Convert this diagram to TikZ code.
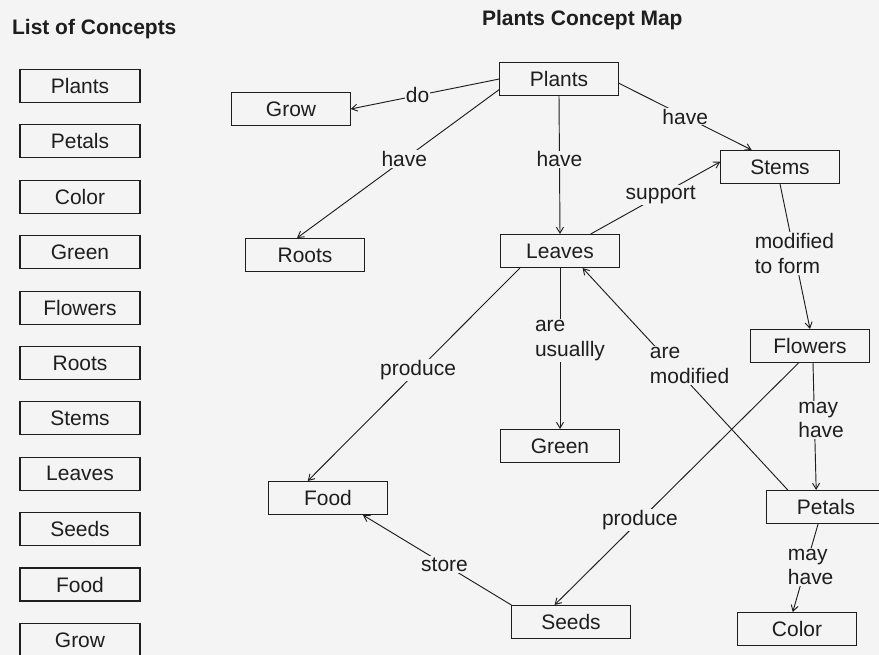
\documentclass[tikz,border=0pt]{standalone}
\usepackage{fontspec}
\setmainfont{Liberation Sans}
\usetikzlibrary{positioning,arrows.meta}

\definecolor{paper}{RGB}{244,244,244}
\definecolor{ink}{RGB}{30,30,30}
\newcommand\mapfont{\fontsize{17.9}{21}\selectfont}

\begin{document}
\begin{tikzpicture}[x=0.03cm,y=-0.03cm,font=\mapfont,color=ink]
	\tikzstyle{concept}=[draw,line width=0.9pt,minimum width=3.55cm,minimum height=0.99cm,inner sep=0pt]
	\tikzstyle{every edge}=[draw,->,>={Straight Barb[length=5pt,width=6pt]},line width=0.8pt]
	\tikzstyle{link}=[fill=paper,inner sep=1pt,align=left]

	\clip (0,0) rectangle (879,655);
	\fill[paper] (0,0) rectangle (879,655);

	\node[anchor=base west,font=\mapfont\bfseries] (listtitle) at (8,35) {List of Concepts};
	\node[anchor=base west,font=\mapfont\bfseries] (maptitle) at (478,26) {Plants Concept Map};

	% list of concepts
	\node[concept,minimum width=3.6cm] (lPlants) at (80,86) {Plants};
	\node[concept,minimum width=3.6cm,below=0.64cm of lPlants] (lPetals) {Petals};
	\node[concept,minimum width=3.6cm,below=0.64cm of lPetals] (lColor) {Color};
	\node[concept,minimum width=3.6cm,below=0.64cm of lColor] (lGreen) {Green};
	\node[concept,minimum width=3.6cm,below=0.64cm of lGreen] (lFlowers) {Flowers};
	\node[concept,minimum width=3.6cm,below=0.64cm of lFlowers] (lRoots) {Roots};
	\node[concept,minimum width=3.6cm,below=0.64cm of lRoots] (lStems) {Stems};
	\node[concept,minimum width=3.6cm,below=0.64cm of lStems] (lLeaves) {Leaves};
	\node[concept,minimum width=3.6cm,below=0.64cm of lLeaves] (lSeeds) {Seeds};
	\node[concept,minimum width=3.6cm,below=0.64cm of lSeeds] (lFood) {Food};
	\node[concept,minimum width=3.6cm,below=0.64cm of lFood] (lGrow) {Grow};

	% concept map
	\node[concept] (Plants) at (559,79) {Plants};
	\node[concept] (Grow) at (291,109) {Grow};
	\node[concept] (Roots) at (305,255) {Roots};
	\node[concept] (Stems) at (780,167) {Stems};
	\node[concept] (Leaves) at (560,251) {Leaves};
	\node[concept] (Flowers) at (810,346) {Flowers};
	\node[concept] (Green) at (560,446) {Green};
	\node[concept] (Food) at (328,498) {Food};
	\node[concept] (Petals) at (826,507) {Petals};
	\node[concept] (Seeds) at (571,622) {Seeds};
	\node[concept] (Color) at (797,629) {Color};

	\draw (Plants.west) edge node[link,pos=0.55] {do} (Grow.east);
	\draw (Plants.190) edge node[link,pos=0.47] {have} (Roots.115);
	\draw (Plants.-4) edge node[link,pos=0.5] {have} (Stems.149);
	\draw (Plants.south) edge node[link,pos=0.46] {have} (Leaves.north);
	\draw (Leaves.29) edge node[link,pos=0.54] {support} (Stems.175);
	\draw (Leaves.south) edge node[link,pos=0.45,xshift=0.3cm] {are\\usuallly} (Green.north);
	\draw (Leaves.203) edge node[link,pos=0.48] {produce} (Food.140);
	\draw (Stems.south) edge node[link,pos=0.48] {modified\\to form} (Flowers.north);
	\draw (Flowers.236) edge node[link,pos=0.65] {produce} (Seeds.134)
	(Flowers.-80) edge node[link,pos=0.45,xshift=0.2cm] {may\\have} (Petals.120);
	\draw (Petals.156) edge node[link,pos=0.56,xshift=0.5cm] {are\\modified} (Leaves.-37);
	\draw (Petals.245) edge node[link,pos=0.49,xshift=0.15cm] {may\\have} (Color.104);
	\draw (Seeds.north west) edge node[link,pos=0.45] {store} (Food.-26);
\end{tikzpicture}
\end{document}
